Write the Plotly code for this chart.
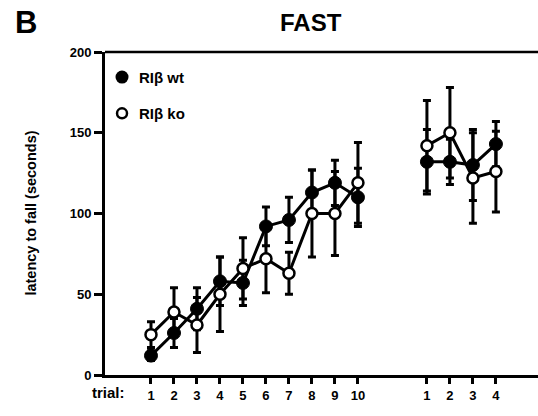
import plotly.graph_objects as go

# Data
trial_labels = ["1", "2", "3", "4", "5", "6", "7", "8", "9", "10", "1", "2", "3", "4"]
trial_pos = [1, 2, 3, 4, 5, 6, 7, 8, 9, 10, 13, 14, 15, 16]
wt_mean = [12, 26, 41, 58, 57, 92, 96, 113, 119, 110, 132, 132, 130, 143]
wt_err = [3, 9, 13, 15, 14, 12, 14, 14, 14, 18, 20, 14, 22, 14]
ko_mean = [25, 39, 31, 50, 66, 72, 63, 100, 100, 119, 142, 150, 122, 126]
ko_err = [8, 15, 17, 23, 19, 21, 13, 27, 26, 25, 28, 28, 28, 25]

FONT = "Liberation Sans, Arial, Helvetica, sans-serif"


def split(xs, ys, errs):
    # insert a gap between the two trial blocks
    X, Y, E = [], [], []
    for i, (x, y, e) in enumerate(zip(xs, ys, errs)):
        if i > 0 and x - xs[i - 1] > 1:
            X.append(None); Y.append(None); E.append(None)
        X.append(x); Y.append(y); E.append(e)
    return X, Y, E


fig = go.Figure()

x, y, e = split(trial_pos, wt_mean, wt_err)
fig.add_trace(go.Scatter(
    x=x, y=y, mode="lines+markers", name="RIβ wt",
    line=dict(color="black", width=3),
    marker=dict(symbol="circle", size=13, color="black", line=dict(color="black", width=1)),
    error_y=dict(type="data", array=e, visible=True, color="black", thickness=3, width=4),
    showlegend=False,
))
x, y, e = split(trial_pos, ko_mean, ko_err)
fig.add_trace(go.Scatter(
    x=x, y=y, mode="lines+markers", name="RIβ ko",
    line=dict(color="black", width=3),
    marker=dict(symbol="circle", size=11, color="white", line=dict(color="black", width=2.5)),
    error_y=dict(type="data", array=e, visible=True, color="black", thickness=3, width=4),
    showlegend=False,
))

# legend drawn by hand, as in the reference
fig.add_trace(go.Scatter(
    x=[-0.26], y=[184.5], mode="markers",
    marker=dict(symbol="circle", size=13, color="black"), showlegend=False, hoverinfo="skip"))
fig.add_trace(go.Scatter(
    x=[-0.26], y=[162], mode="markers",
    marker=dict(symbol="circle", size=10, color="white", line=dict(color="black", width=2.5)),
    showlegend=False, hoverinfo="skip"))
fig.add_annotation(x=0.4, y=184.5, text="<b>RIβ wt</b>", showarrow=False, xanchor="left",
                   yanchor="middle", font=dict(family=FONT, size=15, color="black"))
fig.add_annotation(x=0.4, y=162, text="<b>RIβ ko</b>", showarrow=False, xanchor="left",
                   yanchor="middle", font=dict(family=FONT, size=15, color="black"))

fig.update_layout(
    width=538, height=416,
    margin=dict(l=105, r=0, t=52, b=41),
    paper_bgcolor="white", plot_bgcolor="white",
    font=dict(family=FONT, color="black"),
    xaxis=dict(
        range=[-1, 17.83], tickmode="array", tickvals=trial_pos, ticktext=trial_labels,
        showgrid=False, zeroline=False, showline=True, linecolor="black", linewidth=3,
        mirror=False, ticks="outside", ticklen=6, tickwidth=2.5, tickcolor="black",
        tickfont=dict(family=FONT, size=13, color="black", weight=700),
    ),
    yaxis=dict(
        range=[0, 200], tickvals=[0, 50, 100, 150, 200],
        showgrid=False, zeroline=False, showline=True, linecolor="black", linewidth=3,
        ticks="outside", ticklen=8, tickwidth=2.5, tickcolor="black",
        tickfont=dict(family=FONT, size=13, color="black", weight=700),
    ),
    showlegend=False,
)

# top frame line
fig.add_shape(type="line", xref="paper", yref="paper", x0=0, x1=1, y0=1, y1=1,
              line=dict(color="black", width=2.5))

fig.add_annotation(xref="paper", yref="paper", x=-0.173, y=0.5, text="<b>latency to fall (seconds)</b>",
                   textangle=-90, showarrow=False, xanchor="center", yanchor="middle",
                   font=dict(family=FONT, size=14.5, color="black"))
fig.add_annotation(xref="paper", yref="paper", x=0.475, y=1, yshift=30, text="<b>FAST</b>",
                   showarrow=False, xanchor="center", yanchor="middle",
                   font=dict(family=FONT, size=24, color="black"))
fig.add_annotation(xref="paper", yref="paper", x=-0.182, y=1, yshift=30, text="<b>B</b>",
                   showarrow=False, xanchor="center", yanchor="middle",
                   font=dict(family=FONT, size=31, color="black"))
fig.add_annotation(xref="paper", yref="paper", x=0.009, y=0, yshift=-17, text="<b>trial:</b>",
                   showarrow=False, xanchor="center", yanchor="middle",
                   font=dict(family=FONT, size=15, color="black"))

fig.write_html("out.html")
